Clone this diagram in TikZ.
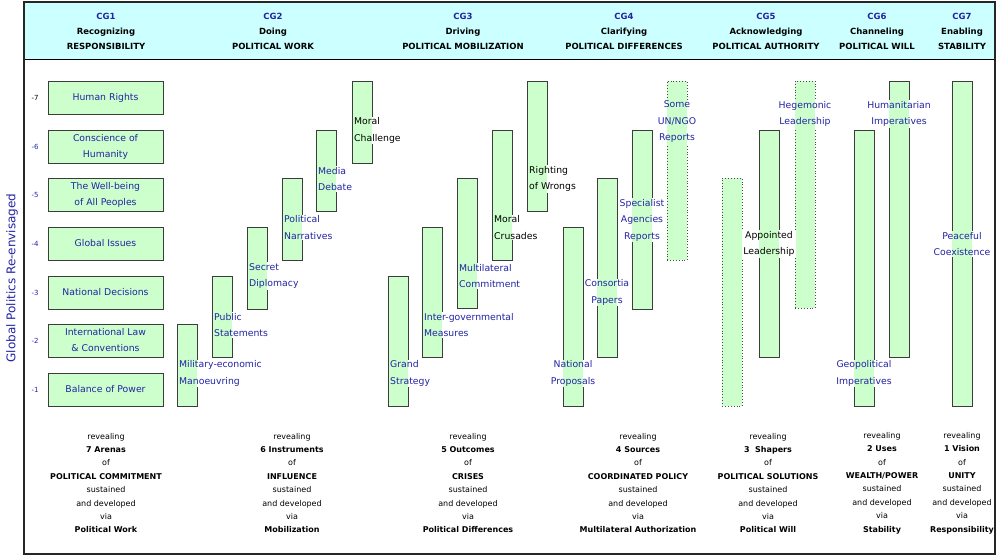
\documentclass[tikz,border=0pt]{standalone}
\usepackage{fontspec}
\setmainfont{DejaVu Sans}
\usepackage{tikz}
\usetikzlibrary{positioning}
\definecolor{barfill}{RGB}{204,255,204}
\definecolor{headfill}{RGB}{204,255,255}
\definecolor{inkblue}{RGB}{35,35,165}
\definecolor{edge}{RGB}{60,60,60}

\begin{document}
\begin{tikzpicture}[
  x=1pt, y=-1pt,
  arena/.style={
    rectangle, draw=edge, line width=1pt, fill=barfill,
    minimum width=115pt, minimum height=33pt, inner sep=0pt,
    align=center, text=inkblue, font=\fontsize{9.3}{16}\selectfont
  },
  colbar/.style={rectangle, draw=edge, line width=0.9pt, fill=barfill,
    minimum width=20pt, inner sep=0pt, outer sep=0pt, anchor=north west},
  dotbar/.style={colbar, dotted, draw=black!70},
  lbl/.style={fill=white, inner sep=1pt, text=inkblue, align=center,
    font=\fontsize{9.3}{16.5}\selectfont,
    path picture={\fill[barfill] (#1.west |- path picture bounding box.south)
      rectangle (#1.east |- path picture bounding box.north);}},
  lbll/.style={lbl=#1, anchor=west, align=left},
  cghead/.style={align=center, font=\bfseries\fontsize{8.5}{15}\selectfont},
  cgfoot/.style={align=center, font=\fontsize{8}{13.4}\selectfont},
  tickno/.style={font=\fontsize{7}{8}\selectfont, text=inkblue}
]
\useasboundingbox (0,0) rectangle (1000,557);

%% ─────────────────────────────────────────────
%% Marco y cabecera
%% ─────────────────────────────────────────────
\fill[headfill] (24,2) rectangle (995,59);
\draw[line width=0.8pt] (24,59) -- (995,59);
\draw[line width=1.3pt, black!85] (24,2) rectangle (995,554);

\node[rotate=90, text=inkblue, font=\fontsize{12}{14}\selectfont] (ttl) at (12,278)
  {Global Politics Re-envisaged};

\node[cghead] (h1) at (106,31) {\textcolor{inkblue}{CG1}\\Recognizing\\RESPONSIBILITY};
\node[cghead] (h2) at (273,31) {\textcolor{inkblue}{CG2}\\Doing\\POLITICAL WORK};
\node[cghead] (h3) at (463,31) {\textcolor{inkblue}{CG3}\\Driving\\POLITICAL MOBILIZATION};
\node[cghead] (h4) at (624,31) {\textcolor{inkblue}{CG4}\\Clarifying\\POLITICAL DIFFERENCES};
\node[cghead] (h5) at (766,31) {\textcolor{inkblue}{CG5}\\Acknowledging\\POLITICAL AUTHORITY};
\node[cghead] (h6) at (877,31) {\textcolor{inkblue}{CG6}\\Channeling\\POLITICAL WILL};
\node[cghead] (h7) at (962,31) {\textcolor{inkblue}{CG7}\\Enabling\\STABILITY};

%% escala lateral
\foreach \k/\yy in {6/146.5, 5/194.5, 4/243.5, 3/292.5, 2/340.5, 1/389.5}
  \node[tickno] (t\k) at (35,\yy) {-\k};
\node[tickno, text=black] (t7) at (35,97.5) {-7};

%% ─────────────────────────────────────────────
%% CG1 ─ arenas
%% ─────────────────────────────────────────────
\node[arena] (a7) at (105.5, 97.5)  {Human Rights};
\node[arena] (a6) at (105.5,146.5)  {Conscience of\\Humanity};
\node[arena] (a5) at (105.5,194.5)  {The Well-being\\of All Peoples};
\node[arena] (a4) at (105.5,243.5)  {Global Issues};
\node[arena] (a3) at (105.5,292.5)  {National Decisions};
\node[arena] (a2) at (105.5,340.5)  {International Law\\\& Conventions};
\node[arena] (a1) at (105.5,389.5)  {Balance of Power};

%% ─────────────────────────────────────────────
%% CG2 ─ instrumentos
%% ─────────────────────────────────────────────
\node[colbar, minimum height=82pt] (me) at (177,324) {};
\node[colbar, minimum height=81pt] (ps) at (212,276) {};
\node[colbar, minimum height=82pt] (sd) at (247,227) {};
\node[colbar, minimum height=82pt] (pn) at (282,178) {};
\node[colbar, minimum height=81pt] (md) at (316,130) {};
\node[colbar, minimum height=82pt] (mc) at (352,81)  {};

\node[lbll=me] at (178,373.5) {Military-economic\\Manoeuvring};
\node[lbll=ps] at (213,325)   {Public\\Statements};
\node[lbll=sd] at (248,276)   {Secret\\Diplomacy};
\node[lbll=pn] at (283,227.5) {Political\\Narratives};
\node[lbll=md] at (317,179)   {Media\\Debate};
\node[lbll=mc, text=black] at (353,130.5) {Moral\\Challenge};

%% ─────────────────────────────────────────────
%% CG3 ─ resultados
%% ─────────────────────────────────────────────
\node[colbar, minimum height=130pt] (gs)  at (388,276) {};
\node[colbar, minimum height=130pt] (ig)  at (422,227) {};
\node[colbar, minimum height=130pt] (mlc) at (457,178) {};
\node[colbar, minimum height=130pt] (mcr) at (492,130) {};
\node[colbar, minimum height=130pt] (rw)  at (527,81)  {};

\node[lbll=gs]  at (389,373.5) {Grand\\Strategy};
\node[lbll=ig]  at (423,325)   {Inter-governmental\\Measures};
\node[lbll=mlc] at (458,276)   {Multilateral\\Commitment};
\node[lbll=mcr, text=black] at (493,227.5) {Moral\\Crusades};
\node[lbll=rw, text=black]  at (528,179)   {Righting\\of Wrongs};

%% ─────────────────────────────────────────────
%% CG4 ─ fuentes
%% ─────────────────────────────────────────────
\node[colbar, minimum height=179pt] (np) at (563,227) {};
\node[colbar, minimum height=179pt] (cp) at (597,178) {};
\node[colbar, minimum height=179pt] (sa) at (632,130) {};
\node[dotbar, minimum height=179pt] (un) at (667,81)  {};

\node[lbl=np] at (573,373.5) {National\\Proposals};
\node[lbl=cp] at (607,292.5) {Consortia\\Papers};
\node[lbl=sa] at (642,220)   {Specialist\\Agencies\\Reports};
\node[lbl=un] at (677,122)   {Some\\UN/NGO\\Reports};

%% ─────────────────────────────────────────────
%% CG5 ─ formadores
%% ─────────────────────────────────────────────
\node[dotbar, minimum height=228pt] (sh) at (722,178) {};
\node[colbar, minimum height=227pt] (al) at (759,130) {};
\node[dotbar, minimum height=227pt] (hl) at (795,81)  {};

\node[lbl=al, text=black] at (769,244) {Appointed\\Leadership};
\node[lbl=hl] at (805,114) {Hegemonic\\Leadership};

%% ─────────────────────────────────────────────
%% CG6 y CG7 ─ usos y visión
%% ─────────────────────────────────────────────
\node[colbar, minimum height=276pt] (gi) at (854,130) {};
\node[colbar, minimum height=276pt] (hi) at (889,81)  {};
\node[colbar, minimum height=325pt] (pc) at (952,81)  {};

\node[lbl=gi] at (864,373.5) {Geopolitical\\Imperatives};
\node[lbl=hi] at (899,114)   {Humanitarian\\Imperatives};
\node[lbl=pc] at (962,244)   {Peaceful\\Coexistence};

%% ─────────────────────────────────────────────
%% Pie de columnas
%% ─────────────────────────────────────────────
\node[cgfoot] (f1) at (106,483) {revealing\\\textbf{7 Arenas}\\of\\\textbf{POLITICAL COMMITMENT}\\sustained\\and developed\\via\\\textbf{Political Work}};
\node[cgfoot] (f2) at (292,483) {revealing\\\textbf{6 Instruments}\\of\\\textbf{INFLUENCE}\\sustained\\and developed\\via\\\textbf{Mobilization}};
\node[cgfoot] (f3) at (468,483) {revealing\\\textbf{5 Outcomes}\\of\\\textbf{CRISES}\\sustained\\and developed\\via\\\textbf{Political Differences}};
\node[cgfoot] (f4) at (638,483) {revealing\\\textbf{4 Sources}\\of\\\textbf{COORDINATED POLICY}\\sustained\\and developed\\via\\\textbf{Multilateral Authorization}};
\node[cgfoot] (f5) at (768,483) {revealing\\\textbf{3 \ Shapers}\\of\\\textbf{POLITICAL SOLUTIONS}\\sustained\\and developed\\via\\\textbf{Political Will}};
\node[cgfoot] (f6) at (882,483) {revealing\\\textbf{2 Uses}\\of\\\textbf{WEALTH/POWER}\\sustained\\and developed\\via\\\textbf{Stability}};
\node[cgfoot] (f7) at (962,483) {revealing\\\textbf{1 Vision}\\of\\\textbf{UNITY}\\sustained\\and developed\\via\\\textbf{Responsibility}};

\end{tikzpicture}
\end{document}
